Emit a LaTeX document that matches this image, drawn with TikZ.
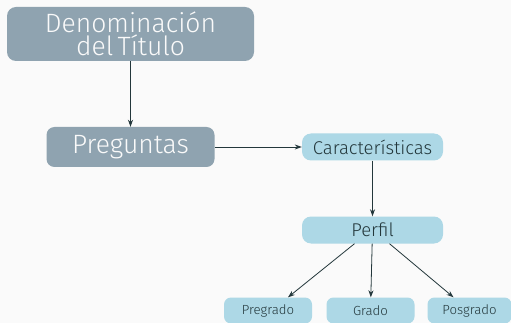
\documentclass[tikz,border=0pt]{standalone}
\usepackage{fontspec}
\setmainfont{Fira Sans Light}
\usetikzlibrary{positioning, arrows.meta}
\definecolor{boxgray}{HTML}{8FA3B0}
\definecolor{boxblue}{HTML}{ADD8E6}
\definecolor{darkteal}{HTML}{23373B}
\definecolor{slidebg}{HTML}{FAFAFA}
\tikzset{%
  >={Stealth[width=5pt,length=7pt]},
  % Specifications for style of nodes:
          base/.style = {rectangle, rounded corners=9pt, inner sep=0pt,
                         text centered},
      titlebox/.style = {base, fill=boxgray, text=slidebg,
                         minimum width=247pt, minimum height=54pt,
                         font=\fontsize{26.5}{23}\selectfont},
   questionbox/.style = {base, fill=boxgray, text=slidebg,
                         rounded corners=8pt,
                         minimum width=168pt, minimum height=40pt,
                         font=\fontsize{26.5}{30}\selectfont},
       infobox/.style = {base, fill=boxblue, text=darkteal,
                         minimum width=141pt, minimum height=27pt,
                         font=\fontsize{18.5}{22}\selectfont},
      levelbox/.style = {base, fill=boxblue, text=darkteal,
                         rounded corners=7pt,
                         minimum width=88pt, minimum height=26pt,
                         font=\fontsize{13.2}{16}\selectfont},
}

\begin{document}
\begin{tikzpicture}[node distance=113pt, align=center]
  \fill[slidebg] (0,0) rectangle (511pt,-323pt);
  \useasboundingbox (0,0) rectangle (511pt,-323pt);
  % Specification of nodes (position, etc.)
  \node (Titulo)          [titlebox] at (130.5pt,-34pt) {Denominación\\del\,Título};
  \node (Preguntas)       [questionbox, below of=Titulo] {Preguntas};
  \node (Caracteristicas) [infobox, right of=Preguntas, xshift=129pt]
                                                         {Características};
  \node (Perfil)          [infobox, below of=Caracteristicas, yshift=30pt]
                                                         {Perfil};
  \node (Pregrado)        [levelbox, below of=Perfil, yshift=32.5pt, xshift=-104.5pt]
                                                         {Pregrado};
  \node (Grado)           [levelbox, below of=Perfil, yshift=32.5pt, xshift=-2pt]
                                                         {Grado};
  \node (Posgrado)        [levelbox, below of=Perfil, yshift=32.5pt, xshift=97pt,
                           minimum width=84pt]           {Posgrado};
  % Specification of lines between nodes specified above
  \begin{scope}[draw=darkteal, line width=0.8pt]
  \draw[->]          (Titulo) -- (Preguntas);
  \draw[->]       (Preguntas) -- (Caracteristicas);
  \draw[->] (Caracteristicas) -- (Perfil);
  \draw[->] ([xshift=-18pt]Perfil.south) -- ([xshift=20pt]Pregrado.north);
  \draw[->]  (Perfil) -- (Grado);
  \draw[->] ([xshift=17pt]Perfil.south) -- ([xshift=-16pt]Posgrado.north);
  \end{scope}
\end{tikzpicture}
\end{document}
